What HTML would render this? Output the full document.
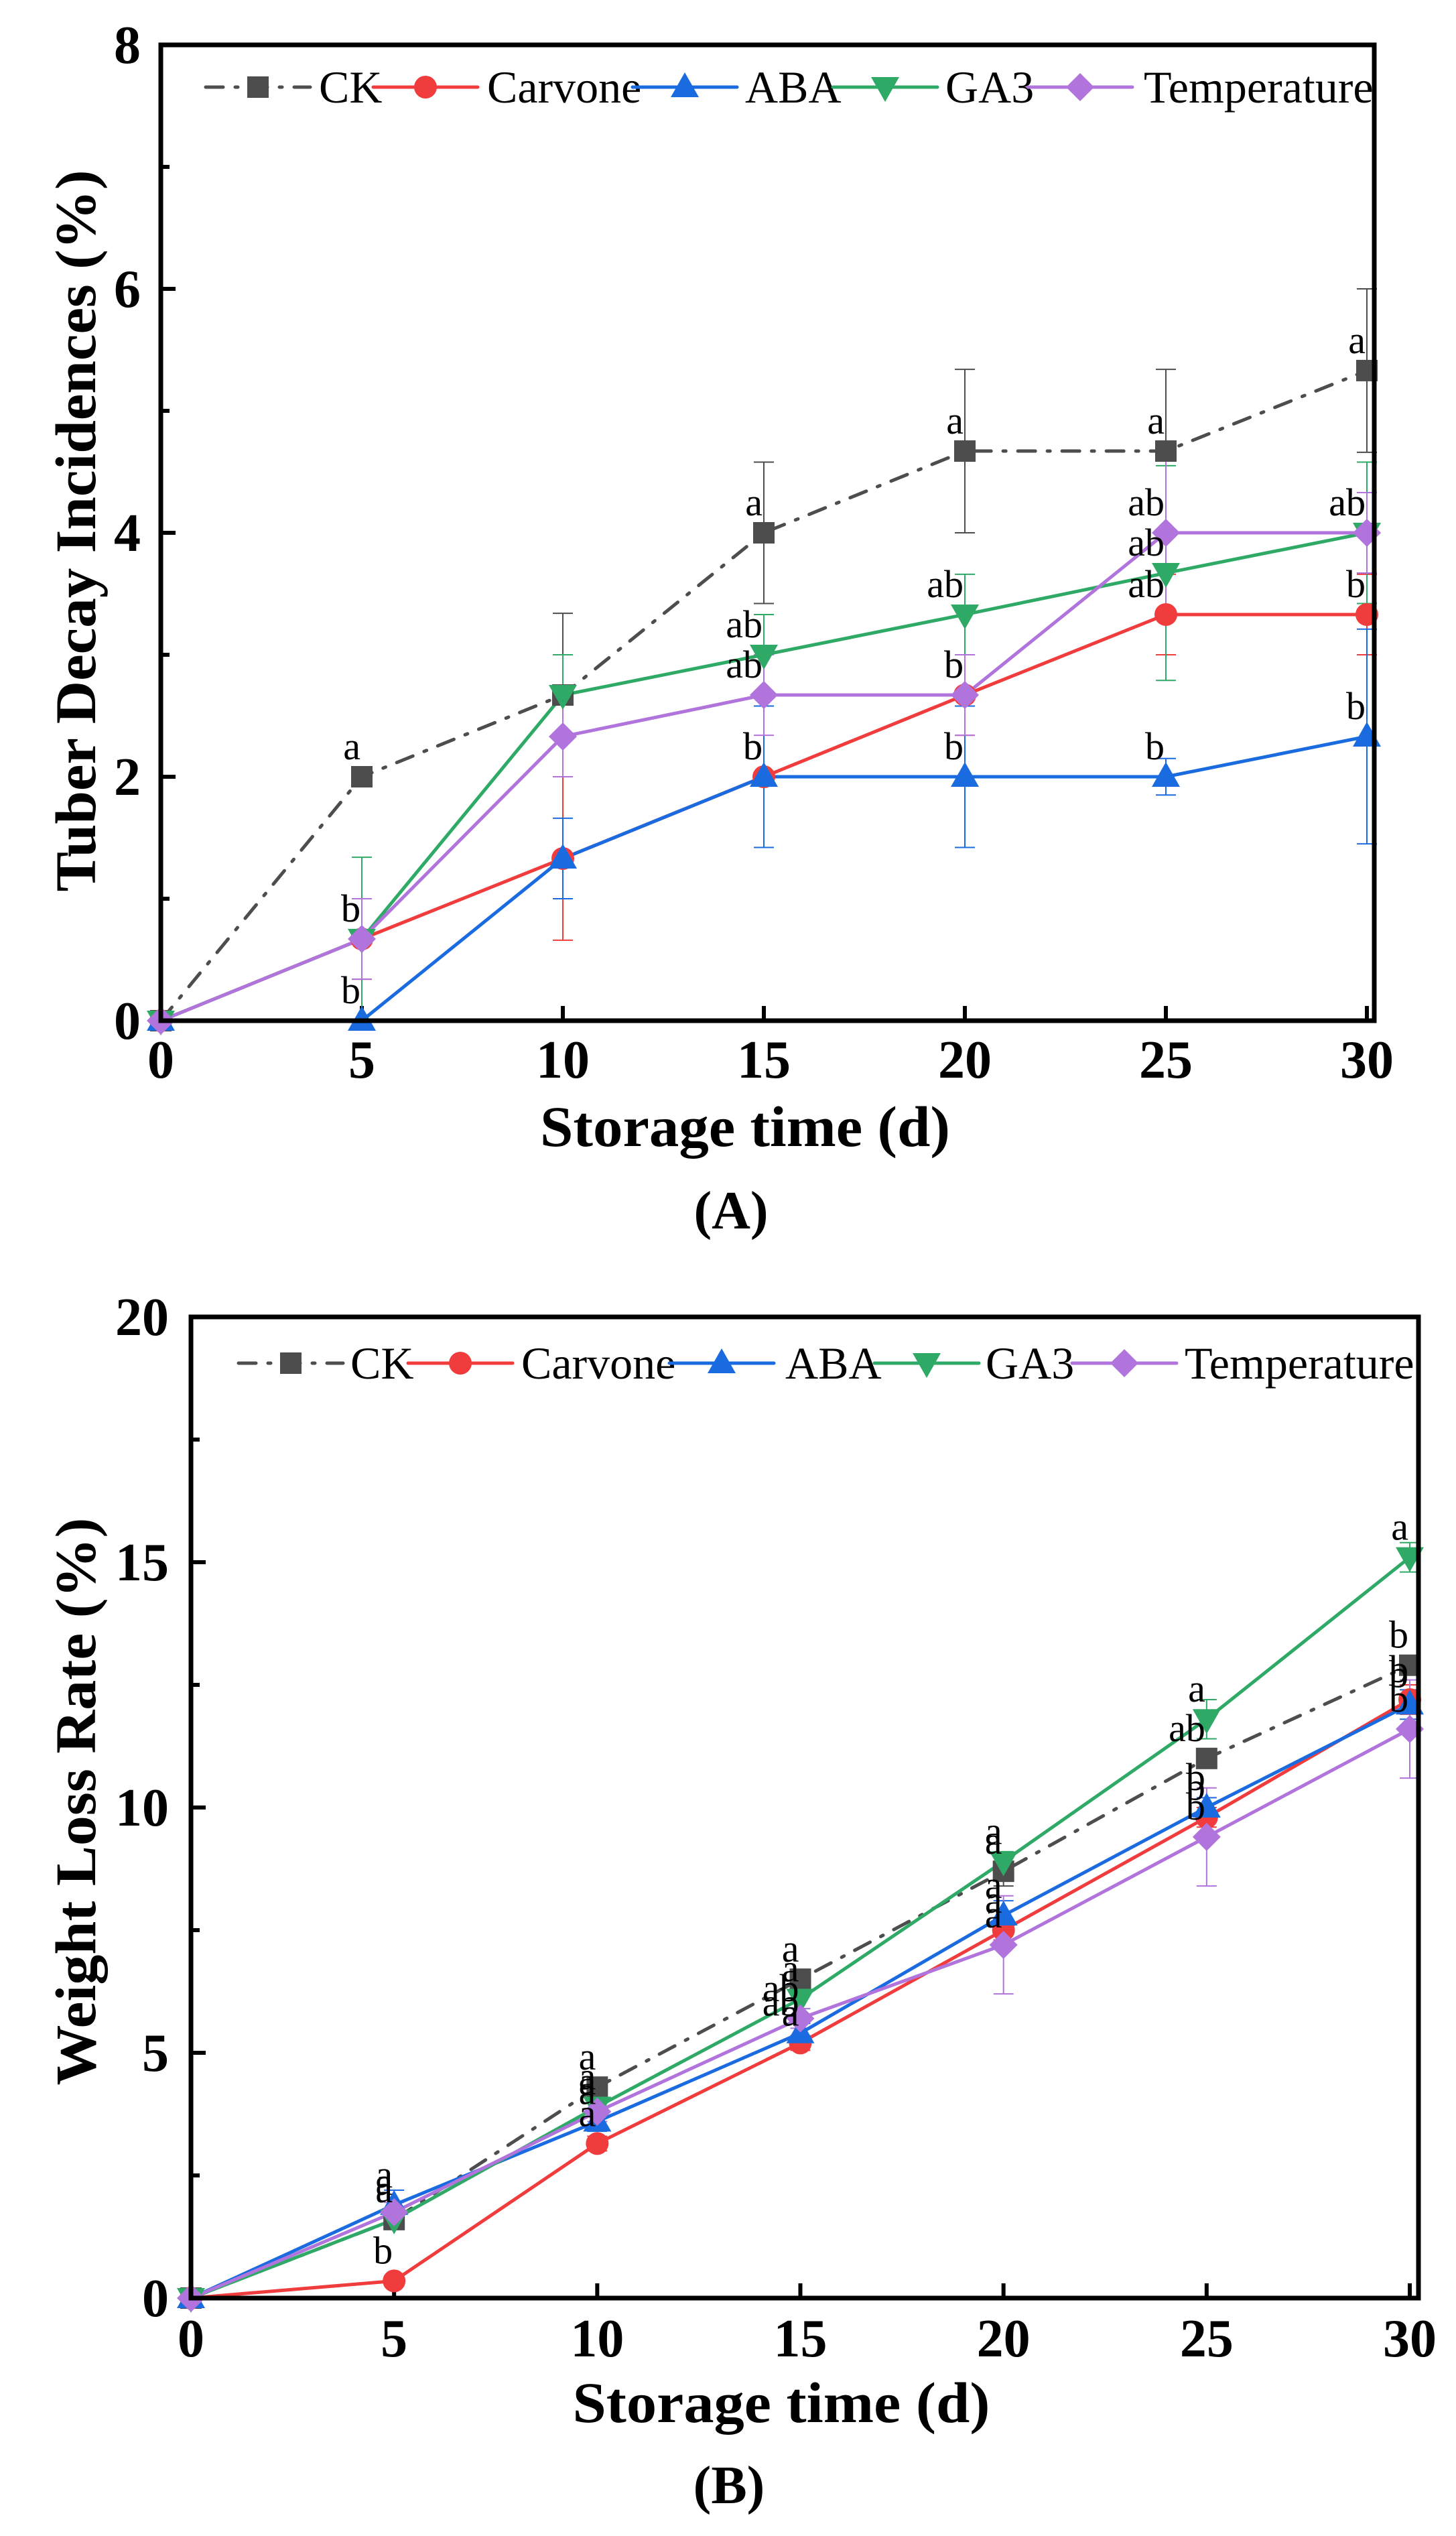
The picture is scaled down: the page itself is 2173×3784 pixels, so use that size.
<!DOCTYPE html>
<html><head><meta charset="utf-8"><style>
html,body{margin:0;padding:0;background:#fff;}
svg{display:block;font-family:"Liberation Serif",serif;}
</style></head><body>
<svg id="fig" width="2173" height="3784" viewBox="0 0 2173 3784" xmlns="http://www.w3.org/2000/svg"></svg>
<script>
const days = [0,5,10,15,20,25,30];
const seriesNames = ["CK","Carvone","ABA","GA3","Temperature"];
// Panel A: tuber decay incidences (%)
const decayCK = [0,2,2.67,4,4.67,4.67,5.33];
const decayCarvone = [0,0.67,1.33,2,2.67,3.33,3.33];
const decayABA = [0,0,1.33,2,2,2,2.33];
const decayGA3 = [0,0.67,2.67,3,3.33,3.67,4];
const decayTemp = [0,0.67,2.33,2.67,2.67,4,4];
const decayErrCK = [0,0,0.67,0.58,0.67,0.67,0.67];
const decayErrCarvone = [0,0.33,0.67,0.58,0.33,0.33,0.33];
const decayErrABA = [0,0,0.33,0.58,0.58,0.15,0.88];
const decayErrGA3 = [0,0.67,0.33,0.33,0.33,0.88,0.58];
const decayErrTemp = [0,0.33,0.33,0.33,0.33,0.67,0.33];
const decayLetCK = ["","a","","a","a","a","a"];
const decayLetCarvone = ["","b","","b","b","ab","b"];
const decayLetABA = ["","b","","b","b","b","b"];
const decayLetGA3 = ["","b","","ab","ab","ab","ab"];
const decayLetTemp = ["","b","","ab","b","ab","ab"];
const decayTicks = ["0","2","4","6","8"];
// Panel B: weight loss rate (%)
const lossCK = [0,1.6,4.3,6.5,8.7,11,12.9];
const lossCarvone = [0,0.35,3.15,5.2,7.5,9.8,12.2];
const lossABA = [0,1.9,3.6,5.4,7.8,10,12.1];
const lossGA3 = [0,1.6,3.9,6.1,8.9,11.8,15.1];
const lossTemp = [0,1.75,3.8,5.7,7.2,9.4,11.6];
const lossErrCK = [0,0.15,0.2,0.2,0.3,0.2,0.2];
const lossErrCarvone = [0,0.1,0.15,0.15,0.2,0.2,0.3];
const lossErrABA = [0,0.3,0.2,0.2,0.3,0.2,0.3];
const lossErrGA3 = [0,0.2,0.2,0.2,0.2,0.4,0.3];
const lossErrTemp = [0,0.2,0.2,0.2,1.0,1.0,1.0];
const lossLetCK = ["","a","a","a","a","ab","b"];
const lossLetCarvone = ["","b","a","a","a","b","b"];
const lossLetABA = ["","a","a","ab","a","b","b"];
const lossLetGA3 = ["","a","a","a","a","a","a"];
const lossLetTemp = ["","a","a","ab","a","b","b"];
const lossTicks = ["0","5","10","15","20"];
const xTicks = ["0","5","10","15","20","25","30"];

const NS="http://www.w3.org/2000/svg";
const svg=document.getElementById('fig');
const colors=["#4d4d4d","#f03c3c","#1a6be0","#2eaa66","#b074dc"];
const markers=["square","circle","up","down","diamond"];
function mk(tag,attrs,parent){const e=document.createElementNS(NS,tag);for(const k in attrs)e.setAttribute(k,attrs[k]);(parent||svg).appendChild(e);return e;}
function marker(g,type,x,y,c){
  let e;
  if(type==="square"){e=mk('rect',{x:x-16,y:y-16,width:32,height:32,fill:c},g);}
  else if(type==="circle"){e=mk('circle',{cx:x,cy:y,r:17,fill:c},g);}
  else if(type==="up"){e=mk('polygon',{points:`${x},${y-22} ${x+21},${y+15} ${x-21},${y+15}`,fill:c},g);}
  else if(type==="down"){e=mk('polygon',{points:`${x},${y+22} ${x+21},${y-15} ${x-21},${y-15}`,fill:c},g);}
  else {e=mk('polygon',{points:`${x},${y-21} ${x+21},${y} ${x},${y+21} ${x-21},${y}`,fill:c},g);}
  return e;
}
function drawPanel(p){
  const g=mk('g',{});
  
  
  const X=v=>p.x0+(p.x30-p.x0)*v/30;
  const Y=v=>p.y0-(p.y0-p.yTop)*v/p.yMax;
  xTicks.forEach((t,i)=>{
    const v=+t,x=X(v);
    const tk=mk('line',{x1:x,y1:p.y0,x2:x,y2:p.y0-22,stroke:'#000','stroke-width':6},g);
    
    
    const tl=mk('text',{x:x,y:p.xLabY,'font-size':80,'font-weight':'bold','text-anchor':'middle'},g);
    tl.textContent=t;
    
    
  });
  p.yTicks.forEach((t,i)=>{
    const v=+t,y=Y(v);
    const tk=mk('line',{x1:p.x0,y1:y,x2:p.x0+22,y2:y,stroke:'#000','stroke-width':6},g);
    
    
    if(i<p.yTicks.length-1){const m=mk('line',{x1:p.x0,y1:Y(v+p.yStep/2),x2:p.x0+13,y2:Y(v+p.yStep/2),stroke:'#000','stroke-width':6},g);
      
      }
    const tl=mk('text',{x:p.yLabX,y:y+27,'font-size':80,'font-weight':'bold','text-anchor':'end'},g);
    tl.textContent=t;
    
    
  });
  p.series.forEach((s,si)=>{
    s.vals.forEach((v,i)=>{
      const e=s.err[i]; if(!e) return;
      const x=X(days[i]);
      const eg=mk('path',{d:`M${x},${Y(v-e)}V${Y(v+e)}M${x-15},${Y(v-e)}h30M${x-15},${Y(v+e)}h30`,stroke:colors[si],'stroke-width':2,fill:'none'},g);
      
      
    });
  });
  p.series.forEach((s,si)=>{
    const pts=s.vals.map((v,i)=>X(days[i])+','+Y(v)).join(' ');
    const a={points:pts,fill:'none',stroke:colors[si],'stroke-width':5,'stroke-linecap':'round'};
    if(si===0)a['stroke-dasharray']='26,18,4,18';
    const l=mk('polyline',a,g);
    
    
  });
  p.series.forEach((s,si)=>{
    s.vals.forEach((v,i)=>{
      const m=marker(g,markers[si],X(days[i]),Y(v),colors[si]);
      
      
    });
  });
  p.series.forEach((s,si)=>{
    s.lets.forEach((t,i)=>{
      if(!t) return;
      const lt=mk('text',{x:X(days[i])-2,y:Y(s.vals[i])-26,'font-size':58,'text-anchor':'end'},g);
      lt.textContent=t;
      
      
    });
  });
  const fr=mk('rect',{x:p.x0,y:p.yTop,width:p.right-p.x0,height:p.y0-p.yTop,fill:'none',stroke:'#000','stroke-width':7},g);
  
  
  p.legend.forEach((L,si)=>{
    const lg=mk('g',{},g);
    
    
    const a={x1:L[0]-78,y1:p.legY,x2:L[0]+78,y2:p.legY,stroke:colors[si],'stroke-width':5,'stroke-linecap':'round'};
    if(si===0)a['stroke-dasharray']='26,18,4,18';
    mk('line',a,lg);
    marker(lg,markers[si],L[0],p.legY,colors[si]);
    const t=mk('text',{x:L[1],y:p.legY+23,'font-size':68},lg);
    t.textContent=seriesNames[si];
  });
  const xt=mk('text',{x:p.xTitleX,y:p.xTitleY,'font-size':86,'font-weight':'bold','text-anchor':'middle',textLength:p.xTitleLen,lengthAdjust:'spacingAndGlyphs'},g);
  xt.textContent='Storage time (d)';
  
  
  const yt=mk('text',{x:0,y:0,'font-size':86,'font-weight':'bold','text-anchor':'middle',textLength:p.yTitleLen,lengthAdjust:'spacingAndGlyphs',transform:`translate(${p.yTitleX},${p.yTitleY}) rotate(-90)`},g);
  yt.textContent=p.yTitle;
  
  
  const pl=mk('text',{x:p.panelX,y:p.panelY,'font-size':80,'font-weight':'bold','text-anchor':'middle'},g);
  pl.textContent=p.panel;
  
  
}
drawPanel({name:'chart-a',x0:240,x30:2040,right:2051,y0:1523,yTop:67,yMax:8,yStep:2,yTicks:decayTicks,
  yLabX:210,xLabY:1608,legY:130,
  legend:[[385,476],[635,727],[1022,1112],[1321,1411],[1612,1707]],
  series:[{vals:decayCK,err:decayErrCK,lets:decayLetCK},{vals:decayCarvone,err:decayErrCarvone,lets:decayLetCarvone},
    {vals:decayABA,err:decayErrABA,lets:decayLetABA},{vals:decayGA3,err:decayErrGA3,lets:decayLetGA3},{vals:decayTemp,err:decayErrTemp,lets:decayLetTemp}],
  xTitleX:1112,xTitleY:1710,xTitleLen:612,yTitle:'Tuber Decay Incidences (%)',yTitleX:142,yTitleY:792,yTitleLen:1077,
  panel:'(A)',panelX:1091,panelY:1833});
drawPanel({name:'chart-b',x0:285,x30:2104,right:2117,y0:3429,yTop:1965,yMax:20,yStep:5,yTicks:lossTicks,
  yLabX:252,xLabY:3516,legY:2034,
  legend:[[434,523],[687,778],[1077,1172],[1383,1471],[1678,1768]],
  series:[{vals:lossCK,err:lossErrCK,lets:lossLetCK},{vals:lossCarvone,err:lossErrCarvone,lets:lossLetCarvone},
    {vals:lossABA,err:lossErrABA,lets:lossLetABA},{vals:lossGA3,err:lossErrGA3,lets:lossLetGA3},{vals:lossTemp,err:lossErrTemp,lets:lossLetTemp}],
  xTitleX:1166,xTitleY:3614,xTitleLen:623,yTitle:'Weight Loss Rate (%)',yTitleX:142,yTitleY:2688,yTitleLen:847,
  panel:'(B)',panelX:1088,panelY:3735});
</script>
</body></html>
